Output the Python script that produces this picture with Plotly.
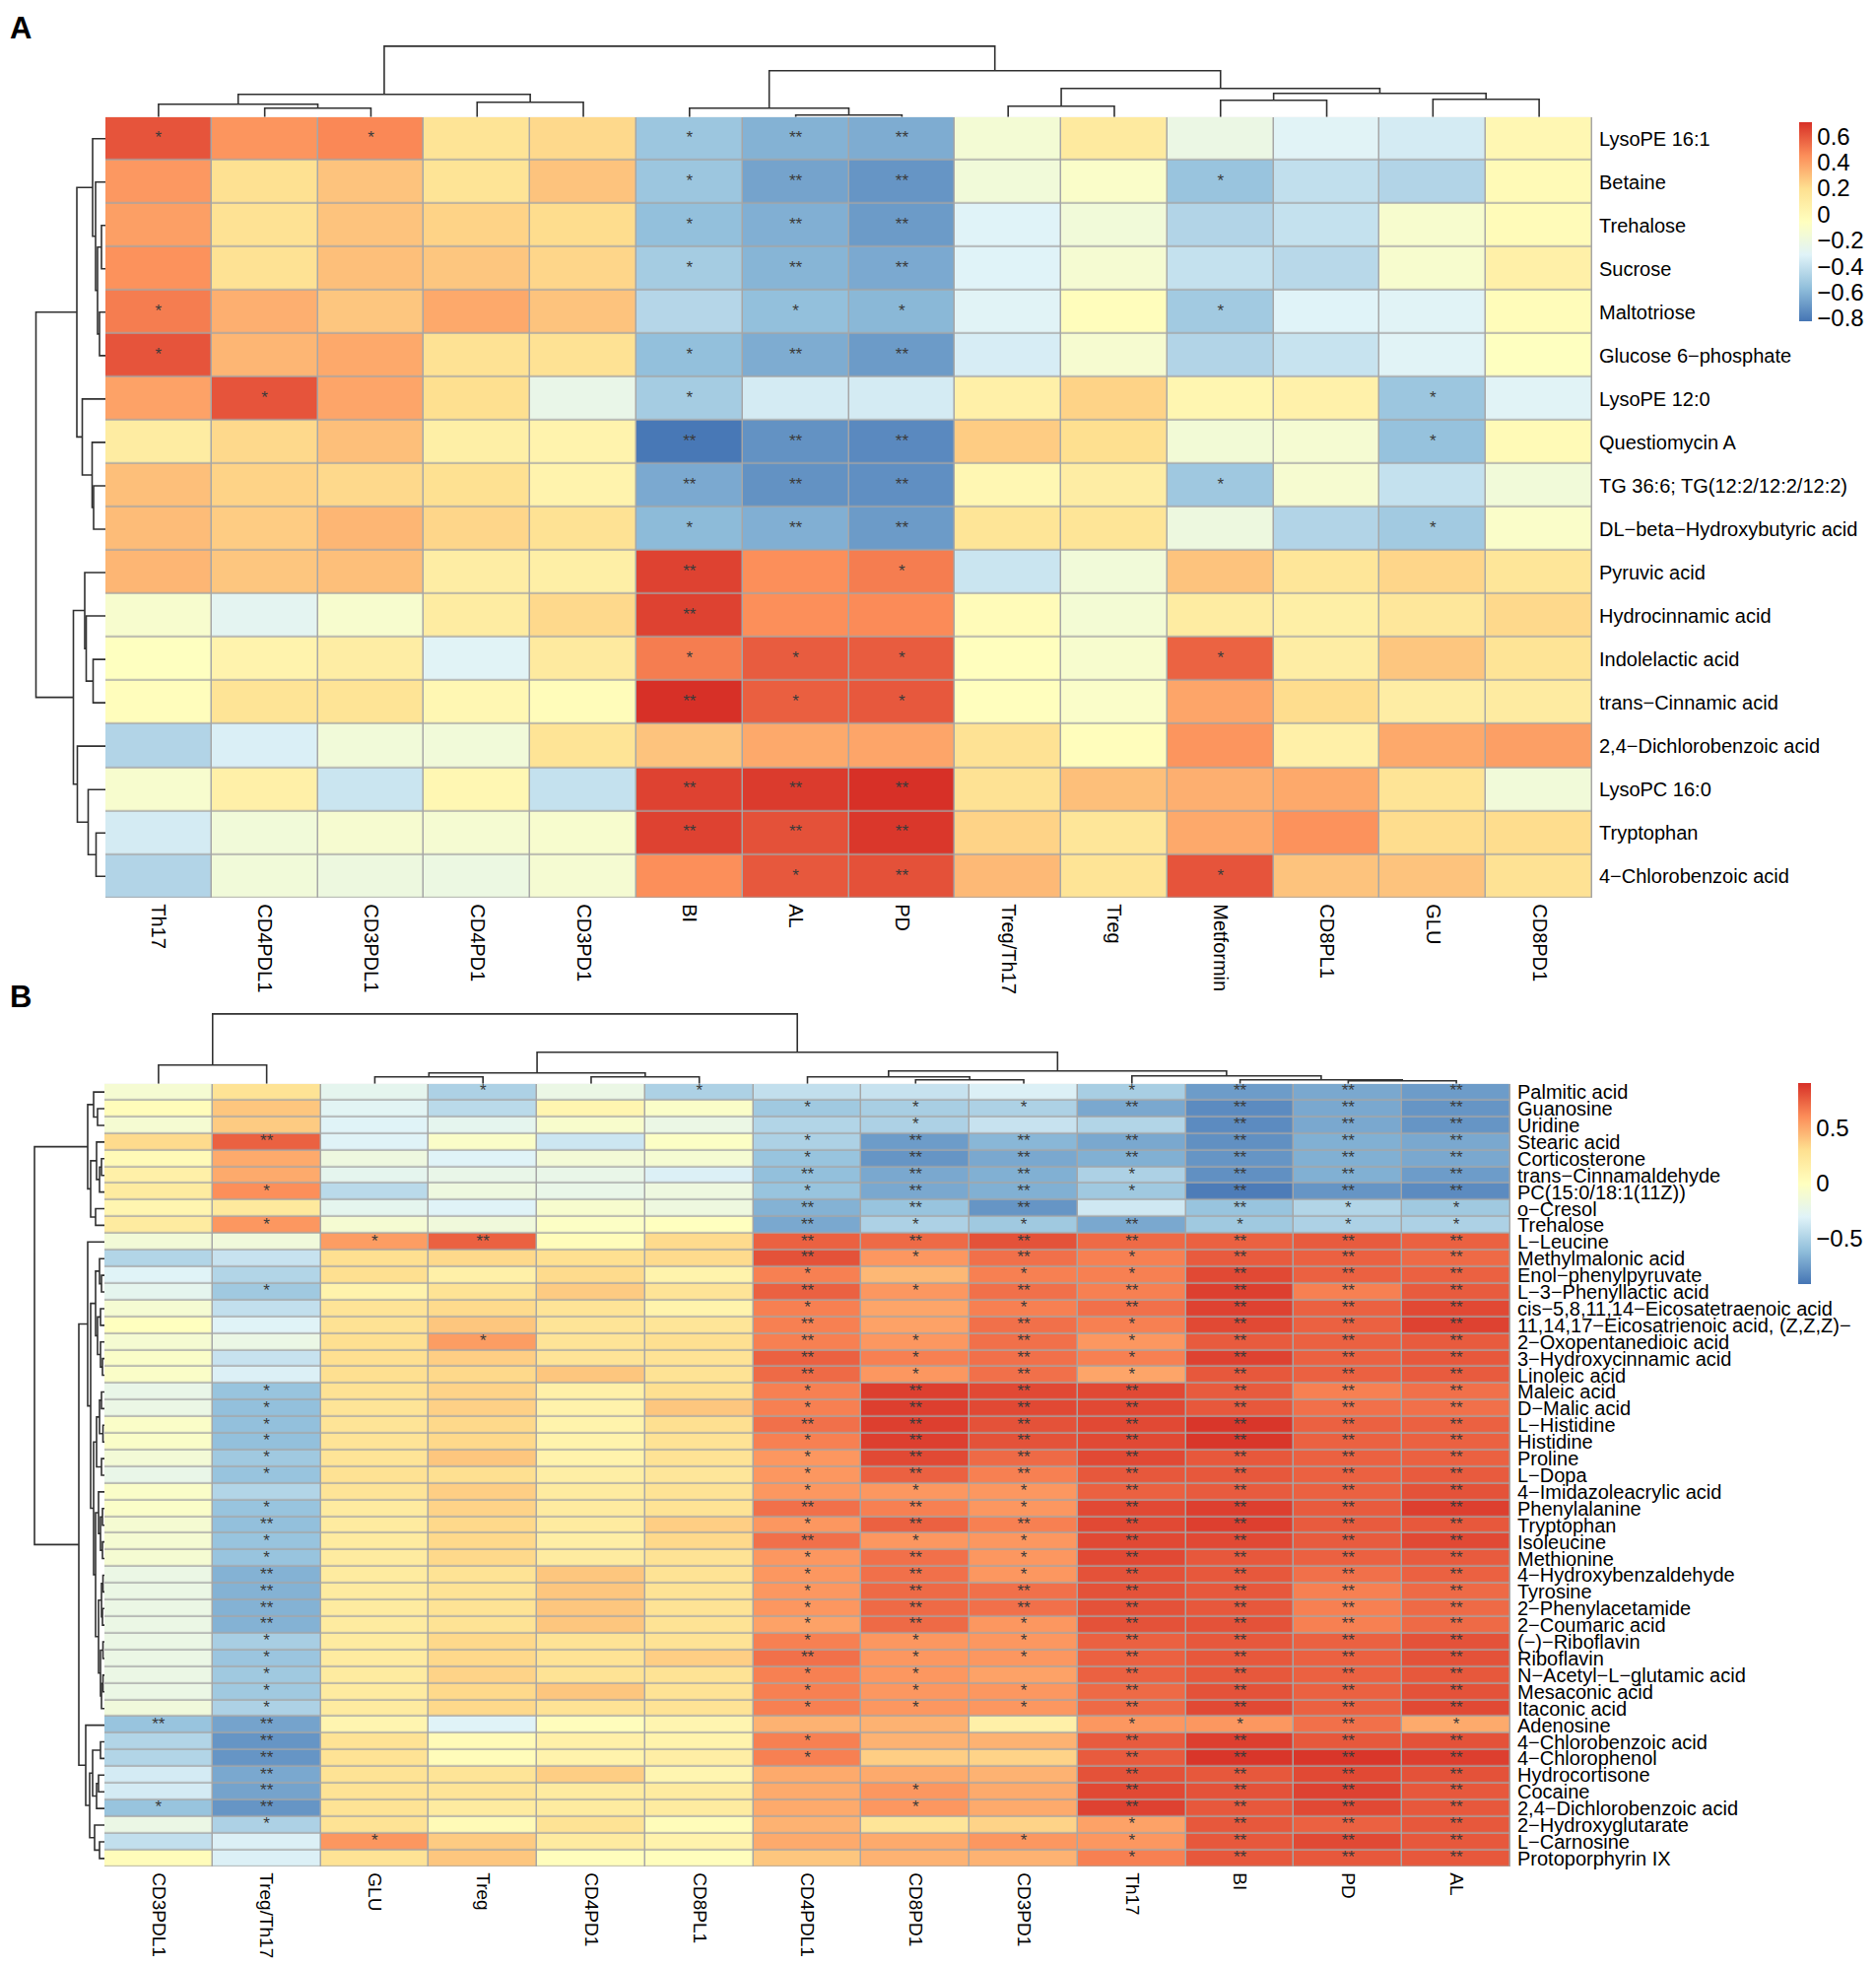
import plotly.graph_objects as go

# page is 1904 x 1996; the browser puts the figure 8 px in from the top-left
PAGE_W, PAGE_H, OFF = 1904, 1996, 8
W, H = PAGE_W - OFF, PAGE_H - OFF
FONT = "Liberation Sans, Arial, sans-serif"
RDYLBU = ["#4575B4", "#91BFDB", "#E0F3F8", "#FFFFBF", "#FEE090", "#FC8D59", "#D73027"]
SCALE = [[i / 6, c] for i, c in enumerate(RDYLBU)]

# ---------------- panel A ----------------
cols_a = ["Th17", "CD4PDL1", "CD3PDL1", "CD4PD1", "CD3PD1", "BI", "AL", "PD",
          "Treg/Th17", "Treg", "Metformin", "CD8PL1", "GLU", "CD8PD1"]
rows_a = ["LysoPE 16:1", "Betaine", "Trehalose", "Sucrose", "Maltotriose",
          "Glucose 6\u2212phosphate", "LysoPE 12:0", "Questiomycin A",
          "TG 36:6; TG(12:2/12:2/12:2)", "DL\u2212beta\u2212Hydroxybutyric acid",
          "Pyruvic acid", "Hydrocinnamic acid", "Indolelactic acid",
          "trans\u2212Cinnamic acid", "2,4\u2212Dichlorobenzoic acid", "LysoPC 16:0",
          "Tryptophan", "4\u2212Chlorobenzoic acid"]
corr_a = [
    [0.61, 0.43, 0.47, 0.17, 0.22, -0.53, -0.61, -0.63, -0.15, 0.12, -0.22, -0.30, -0.35, 0.01],
    [0.42, 0.19, 0.29, 0.17, 0.29, -0.53, -0.66, -0.71, -0.17, -0.10, -0.54, -0.41, -0.46, -0.01],
    [0.40, 0.18, 0.29, 0.24, 0.21, -0.56, -0.62, -0.69, -0.31, -0.17, -0.46, -0.40, -0.12, -0.02],
    [0.44, 0.18, 0.30, 0.28, 0.23, -0.50, -0.60, -0.64, -0.31, -0.14, -0.40, -0.44, -0.12, 0.07],
    [0.50, 0.35, 0.28, 0.37, 0.29, -0.45, -0.56, -0.59, -0.30, -0.04, -0.51, -0.31, -0.30, -0.03],
    [0.61, 0.33, 0.37, 0.18, 0.18, -0.56, -0.63, -0.69, -0.34, -0.13, -0.46, -0.39, -0.30, -0.06],
    [0.39, 0.61, 0.38, 0.20, -0.24, -0.50, -0.35, -0.35, 0.07, 0.24, 0.02, 0.06, -0.53, -0.30],
    [0.10, 0.22, 0.30, 0.08, 0.04, -0.81, -0.72, -0.75, 0.26, 0.20, -0.16, -0.14, -0.55, -0.01],
    [0.30, 0.24, 0.22, 0.19, 0.04, -0.64, -0.72, -0.73, 0.01, 0.09, -0.52, -0.13, -0.40, -0.17],
    [0.31, 0.26, 0.33, 0.23, 0.18, -0.58, -0.62, -0.69, 0.16, 0.16, -0.20, -0.46, -0.51, -0.10],
    [0.33, 0.28, 0.30, 0.09, 0.08, 0.66, 0.45, 0.50, -0.38, -0.17, 0.29, 0.15, 0.23, 0.15],
    [-0.12, -0.28, -0.12, 0.10, 0.22, 0.66, 0.45, 0.46, -0.02, -0.15, 0.10, 0.08, 0.14, 0.22],
    [-0.06, 0.04, 0.09, -0.30, 0.12, 0.50, 0.59, 0.59, -0.05, -0.12, 0.57, 0.09, 0.28, 0.17],
    [-0.04, 0.17, 0.17, 0.01, -0.03, 0.71, 0.58, 0.60, -0.05, -0.10, 0.38, 0.21, 0.09, 0.11],
    [-0.46, -0.33, -0.17, -0.17, 0.17, 0.29, 0.37, 0.38, 0.18, -0.04, 0.43, 0.07, 0.37, 0.40],
    [-0.12, 0.07, -0.38, 0.01, -0.40, 0.66, 0.68, 0.71, 0.18, 0.30, 0.35, 0.37, 0.17, -0.17],
    [-0.35, -0.17, -0.13, -0.14, -0.12, 0.66, 0.62, 0.69, 0.24, 0.15, 0.37, 0.44, 0.21, 0.21],
    [-0.46, -0.17, -0.20, -0.21, -0.14, 0.45, 0.60, 0.62, 0.32, 0.17, 0.61, 0.29, 0.29, 0.18],
]
# significance per cell: 0 none, 1 "*", 2 "**"
sig_a = ["10100122000000", "00000122001000", "00000122000000", "00000122000000",
         "10000011001000", "10000122000000", "01000100000010", "00000222000010",
         "00000222001000", "00000122000010", "00000201000000", "00000200000000",
         "00000111001000", "00000211000000", "00000000000000", "00000222000000",
         "00000222000000", "00000012001000"]
# dendrograms: (child, child, distance); ids >= n refer to earlier merges
tree_cols_a = [(1, 2, 9), (0, 14, 13), (3, 4, 15), (15, 16, 23), (6, 7, 2), (5, 18, 9),
               (8, 9, 11), (10, 11, 17), (12, 13, 18), (21, 22, 24), (20, 23, 29),
               (19, 24, 47), (17, 25, 72)]
tree_rows_a = [(2, 3, 4), (4, 5, 6), (18, 19, 8), (1, 20, 10), (0, 21, 13), (8, 9, 12),
               (7, 23, 13.5), (6, 24, 23.5), (22, 25, 29), (12, 13, 12.5), (11, 27, 19.5),
               (10, 28, 21), (16, 17, 9.5), (15, 30, 17.5), (14, 31, 28.5), (29, 32, 32.5),
               (26, 33, 70.5)]
ticks_a = [0.6, 0.4, 0.2, 0, -0.2, -0.4, -0.6, -0.8]
range_a = [-0.82, 0.71]

# ---------------- panel B ----------------
cols_b = ["CD3PDL1", "Treg/Th17", "GLU", "Treg", "CD4PD1", "CD8PL1", "CD4PDL1",
          "CD8PD1", "CD3PD1", "Th17", "BI", "PD", "AL"]
rows_b = ["Palmitic acid", "Guanosine", "Uridine", "Stearic acid", "Corticosterone",
          "trans\u2212Cinnamaldehyde", "PC(15:0/18:1(11Z))", "o\u2212Cresol", "Trehalose",
          "L\u2212Leucine", "Methylmalonic acid", "Enol\u2212phenylpyruvate",
          "L\u22123\u2212Phenyllactic acid", "cis\u22125,8,11,14\u2212Eicosatetraenoic acid",
          "11,14,17\u2212Eicosatrienoic acid, (Z,Z,Z)\u2212", "2\u2212Oxopentanedioic acid",
          "3\u2212Hydroxycinnamic acid", "Linoleic acid", "Maleic acid", "D\u2212Malic acid",
          "L\u2212Histidine", "Histidine", "Proline", "L\u2212Dopa",
          "4\u2212Imidazoleacrylic acid", "Phenylalanine", "Tryptophan", "Isoleucine",
          "Methionine", "4\u2212Hydroxybenzaldehyde", "Tyrosine", "2\u2212Phenylacetamide",
          "2\u2212Coumaric acid", "(\u2212)\u2212Riboflavin", "Riboflavin",
          "N\u2212Acetyl\u2212L\u2212glutamic acid", "Mesaconic acid", "Itaconic acid",
          "Adenosine", "4\u2212Chlorobenzoic acid", "4\u2212Chlorophenol", "Hydrocortisone",
          "Cocaine", "2,4\u2212Dichlorobenzoic acid", "2\u2212Hydroxyglutarate",
          "L\u2212Carnosine", "Protoporphyrin IX"]
corr_b = [
    [-0.10, 0.27, -0.25, -0.50, -0.20, -0.50, -0.42, -0.40, -0.32, -0.52, -0.75, -0.70, -0.75],
    [0.03, 0.40, -0.28, -0.45, 0.10, -0.05, -0.55, -0.52, -0.50, -0.70, -0.82, -0.70, -0.78],
    [-0.10, 0.38, -0.30, -0.25, -0.07, -0.20, -0.48, -0.50, -0.40, -0.48, -0.82, -0.70, -0.78],
    [0.32, 0.75, -0.30, -0.05, -0.38, -0.03, -0.50, -0.75, -0.64, -0.70, -0.80, -0.67, -0.70],
    [0.05, 0.50, -0.17, -0.30, -0.12, -0.10, -0.58, -0.78, -0.70, -0.67, -0.78, -0.67, -0.70],
    [0.15, 0.50, -0.25, -0.22, -0.22, -0.32, -0.60, -0.70, -0.67, -0.50, -0.80, -0.67, -0.75],
    [0.20, 0.60, -0.45, -0.17, -0.22, -0.17, -0.58, -0.70, -0.67, -0.55, -0.88, -0.78, -0.82],
    [0.10, 0.22, -0.25, -0.30, -0.08, -0.17, -0.66, -0.58, -0.78, -0.37, -0.58, -0.48, -0.55],
    [0.20, 0.57, -0.10, -0.15, -0.03, 0.00, -0.70, -0.50, -0.55, -0.70, -0.55, -0.50, -0.50],
    [-0.13, -0.15, 0.55, 0.75, 0.03, 0.32, 0.75, 0.72, 0.80, 0.72, 0.75, 0.77, 0.75],
    [-0.48, -0.40, 0.30, 0.33, 0.30, 0.32, 0.80, 0.57, 0.70, 0.65, 0.77, 0.75, 0.72],
    [-0.30, -0.48, 0.30, 0.15, 0.32, 0.12, 0.65, 0.45, 0.65, 0.65, 0.83, 0.75, 0.75],
    [-0.25, -0.55, 0.12, 0.27, 0.38, 0.26, 0.75, 0.57, 0.70, 0.65, 0.86, 0.65, 0.77],
    [-0.10, -0.42, 0.26, 0.32, 0.26, 0.12, 0.65, 0.52, 0.65, 0.70, 0.85, 0.75, 0.83],
    [0.00, -0.30, 0.28, 0.40, 0.26, 0.25, 0.65, 0.53, 0.70, 0.65, 0.83, 0.75, 0.85],
    [-0.10, -0.20, 0.30, 0.55, 0.26, 0.30, 0.65, 0.57, 0.70, 0.57, 0.77, 0.75, 0.77],
    [-0.05, -0.40, 0.30, 0.37, 0.26, 0.27, 0.75, 0.65, 0.70, 0.65, 0.85, 0.75, 0.78],
    [-0.05, -0.32, 0.30, 0.33, 0.40, 0.27, 0.72, 0.57, 0.70, 0.52, 0.78, 0.75, 0.77],
    [-0.22, -0.58, 0.28, 0.35, 0.15, 0.30, 0.65, 0.86, 0.83, 0.83, 0.77, 0.65, 0.70],
    [-0.20, -0.60, 0.26, 0.36, 0.13, 0.40, 0.65, 0.86, 0.83, 0.83, 0.78, 0.70, 0.70],
    [-0.05, -0.60, 0.26, 0.33, 0.12, 0.30, 0.70, 0.86, 0.80, 0.83, 0.89, 0.75, 0.75],
    [-0.05, -0.60, 0.26, 0.33, 0.12, 0.27, 0.65, 0.86, 0.80, 0.83, 0.89, 0.75, 0.75],
    [-0.12, -0.55, 0.26, 0.40, 0.12, 0.27, 0.57, 0.83, 0.72, 0.83, 0.78, 0.75, 0.75],
    [-0.22, -0.58, 0.28, 0.30, 0.17, 0.24, 0.57, 0.75, 0.65, 0.78, 0.78, 0.75, 0.77],
    [-0.05, -0.48, 0.26, 0.37, 0.20, 0.27, 0.57, 0.57, 0.57, 0.75, 0.77, 0.75, 0.80],
    [-0.05, -0.58, 0.20, 0.35, 0.20, 0.27, 0.70, 0.65, 0.57, 0.83, 0.86, 0.77, 0.86],
    [-0.10, -0.60, 0.20, 0.33, 0.20, 0.37, 0.57, 0.75, 0.65, 0.83, 0.86, 0.77, 0.78],
    [-0.10, -0.58, 0.20, 0.33, 0.17, 0.33, 0.70, 0.57, 0.57, 0.83, 0.83, 0.77, 0.83],
    [-0.10, -0.58, 0.20, 0.33, 0.20, 0.27, 0.57, 0.70, 0.57, 0.83, 0.78, 0.75, 0.77],
    [-0.20, -0.66, 0.20, 0.27, 0.40, 0.27, 0.57, 0.70, 0.57, 0.80, 0.78, 0.70, 0.75],
    [-0.20, -0.66, 0.20, 0.27, 0.40, 0.27, 0.57, 0.72, 0.70, 0.80, 0.78, 0.65, 0.72],
    [-0.20, -0.66, 0.20, 0.27, 0.40, 0.27, 0.57, 0.72, 0.70, 0.80, 0.78, 0.65, 0.72],
    [-0.20, -0.66, 0.20, 0.27, 0.40, 0.27, 0.53, 0.72, 0.57, 0.80, 0.80, 0.65, 0.72],
    [-0.20, -0.52, 0.20, 0.33, 0.27, 0.27, 0.65, 0.57, 0.57, 0.75, 0.78, 0.75, 0.80],
    [-0.20, -0.57, 0.20, 0.33, 0.27, 0.37, 0.70, 0.57, 0.57, 0.75, 0.78, 0.75, 0.80],
    [-0.20, -0.55, 0.20, 0.35, 0.27, 0.27, 0.65, 0.57, 0.53, 0.75, 0.78, 0.75, 0.78],
    [-0.20, -0.55, 0.20, 0.33, 0.40, 0.27, 0.65, 0.57, 0.57, 0.72, 0.80, 0.75, 0.80],
    [-0.15, -0.50, 0.20, 0.33, 0.27, 0.27, 0.65, 0.57, 0.57, 0.72, 0.83, 0.75, 0.83],
    [-0.58, -0.72, 0.10, -0.30, 0.02, 0.10, 0.47, 0.47, 0.15, 0.57, 0.57, 0.70, 0.50],
    [-0.48, -0.78, 0.27, 0.05, 0.15, 0.12, 0.65, 0.47, 0.47, 0.77, 0.86, 0.78, 0.80],
    [-0.48, -0.78, 0.27, 0.03, 0.12, 0.17, 0.65, 0.37, 0.35, 0.77, 0.89, 0.89, 0.86],
    [-0.35, -0.70, 0.27, 0.26, 0.37, 0.10, 0.50, 0.50, 0.47, 0.80, 0.78, 0.83, 0.80],
    [-0.35, -0.72, 0.27, 0.26, 0.20, 0.20, 0.50, 0.57, 0.50, 0.83, 0.80, 0.85, 0.78],
    [-0.58, -0.78, 0.27, 0.20, 0.20, 0.20, 0.50, 0.57, 0.50, 0.85, 0.78, 0.83, 0.78],
    [-0.20, -0.50, 0.27, 0.05, 0.27, 0.03, 0.47, 0.25, 0.35, 0.53, 0.78, 0.75, 0.78],
    [-0.42, -0.32, 0.57, 0.38, 0.20, 0.12, 0.50, 0.50, 0.57, 0.57, 0.78, 0.83, 0.78],
    [0.03, -0.32, 0.27, 0.40, 0.02, 0.02, 0.40, 0.47, 0.47, 0.65, 0.78, 0.78, 0.78],
]
sig_b = ["0001010001222", "0000001112222", "0000000100222", "0200001222222",
         "0000001222222", "0000002221222", "0100001221222", "0000002220211",
         "0100002112111", "0012002222222", "0000002121222", "0000001011222",
         "0100002122222", "0000001012222", "0000002021222", "0001002121222",
         "0000002121222", "0000002121222", "0100001222222", "0100001222222",
         "0100002222222", "0100001222222", "0100001222222", "0100001222222",
         "0000001112222", "0100002212222", "0200001222222", "0100002112222",
         "0100001212222", "0200001212222", "0200001222222", "0200001222222",
         "0200001212222", "0100001112222", "0100002112222", "0100001102222",
         "0100001112222", "0100001112222", "2200000001121", "0200001002222",
         "0200001002222", "0200000002222", "0200000102222", "1200000102222",
         "0100000001222", "0010000011222", "0000000001222"]
tree_cols_b = [(0, 1, 19), (2, 3, 7), (4, 5, 7), (14, 15, 11), (7, 8, 4), (6, 17, 7),
               (11, 12, 3), (10, 19, 4), (9, 20, 8), (18, 21, 13), (16, 22, 32),
               (13, 23, 71)]
tree_rows_b = [(1, 2, 7), (0, 47, 11), (4, 5, 3), (49, 6, 5), (3, 50, 8), (7, 8, 9),
               (51, 52, 14), (48, 53, 17),
               (39, 40, 4), (41, 42, 6), (56, 43, 8), (55, 57, 12), (45, 46, 5),
               (44, 59, 10), (58, 60, 15), (38, 61, 19),
               (11, 12, 3), (10, 63, 5), (13, 14, 4), (16, 17, 2), (15, 66, 4),
               (65, 67, 7), (64, 68, 9),
               (18, 19, 3), (20, 21, 1.5), (70, 71, 5), (22, 23, 3), (72, 73, 8),
               (25, 26, 2), (27, 28, 2), (75, 76, 4), (24, 77, 6), (29, 30, 1.5),
               (31, 32, 2), (79, 80, 3), (33, 34, 1.5), (35, 36, 1.5), (83, 37, 3),
               (82, 84, 4), (81, 85, 6), (78, 86, 9), (74, 87, 11),
               (69, 88, 14), (9, 89, 17), (90, 62, 26), (54, 91, 71)]
ticks_b = [0.5, 0, -0.5]
range_b = [-0.91, 0.91]


def xd(a, b):
    return [(a - OFF) / W, (b - OFF) / W]


def yd(a, b):
    return [1 - (b - OFF) / H, 1 - (a - OFF) / H]


def ref(i, axis):
    return axis if i == 1 else f"{axis}{i}"


def key(i, axis):
    return f"{axis}axis" if i == 1 else f"{axis}axis{i}"


def tree_lines(merges, n):
    pos = list(range(n))
    hgt = [0.0] * n
    p, h = [], []
    for a, b, d in merges:
        p += [pos[a], pos[a], pos[b], pos[b], None]
        h += [hgt[a], d, d, hgt[b], None]
        pos.append((pos[a] + pos[b]) / 2)
        hgt.append(d)
    return p, h


def star_points(sig):
    xs, ys, ts = [], [], []
    for r, s in enumerate(sig):
        for c, ch in enumerate(s):
            if ch != "0":
                xs.append(c)
                ys.append(r)
                ts.append("*" * int(ch))
    return xs, ys, ts


def panel(fig, k, cols, rows, z, sig, col_tree, row_tree, box, dh, dw,
          zr, cb, cb_ticks, row_size, col_size):
    x0, y0, x1, y1 = box
    nc, nr = len(cols), len(rows)
    hm, cd, rd = k, k + 1, k + 2
    fig.add_trace(go.Heatmap(
        z=z, x=list(range(nc)), y=list(range(nr)), colorscale=SCALE,
        zmin=zr[0], zmax=zr[1], xgap=1.5, ygap=1.5,
        colorbar=dict(x=(cb[0] - OFF) / W, xanchor="left", y=1 - (cb[1] - OFF) / H,
                      yanchor="top", len=cb[3] - cb[1], lenmode="pixels",
                      thickness=cb[2] - cb[0], thicknessmode="pixels",
                      xpad=0, ypad=0, outlinewidth=0, ticks="", tickvals=cb_ticks,
                      tickfont=dict(size=24, family=FONT, color="black")),
        xaxis=ref(hm, "x"), yaxis=ref(hm, "y")))
    sx, sy, st = star_points(sig)
    fig.add_trace(go.Scatter(
        x=sx, y=sy, text=st, mode="text", hoverinfo="skip", showlegend=False,
        textfont=dict(size=17, color="#3a3a3a", family=FONT),
        xaxis=ref(hm, "x"), yaxis=ref(hm, "y")))
    lp, lh = tree_lines(col_tree, nc)
    fig.add_trace(go.Scatter(
        x=lp, y=lh, mode="lines", line=dict(color="#303030", width=1.6),
        hoverinfo="skip", showlegend=False, xaxis=ref(cd, "x"), yaxis=ref(cd, "y")))
    lp, lh = tree_lines(row_tree, nr)
    fig.add_trace(go.Scatter(
        x=lh, y=lp, mode="lines", line=dict(color="#303030", width=1.6),
        hoverinfo="skip", showlegend=False, xaxis=ref(rd, "x"), yaxis=ref(rd, "y")))

    hide = dict(visible=False, fixedrange=True)
    fig.update_layout({
        key(hm, "x"): dict(domain=xd(x0, x1), range=[-0.5, nc - 0.5], anchor=ref(hm, "y"),
                           tickmode="array", tickvals=list(range(nc)), ticktext=cols,
                           tickangle=90, ticks="", showgrid=False, zeroline=False,
                           showline=False, ticklabelstandoff=5,
                           tickfont=dict(size=col_size, family=FONT, color="black")),
        key(hm, "y"): dict(domain=yd(y0, y1), range=[nr - 0.5, -0.5], anchor=ref(hm, "x"),
                           side="right", tickmode="array", tickvals=list(range(nr)),
                           ticktext=rows, ticks="", showgrid=False, zeroline=False,
                           showline=False, ticklabelstandoff=6,
                           tickfont=dict(size=row_size, family=FONT, color="black")),
        key(cd, "x"): dict(domain=xd(x0, x1), range=[-0.5, nc - 0.5], anchor=ref(cd, "y"), **hide),
        key(cd, "y"): dict(domain=yd(y0 - dh, y0), range=[0, dh], anchor=ref(cd, "x"), **hide),
        key(rd, "x"): dict(domain=xd(x0 - dw, x0), range=[dw, 0], anchor=ref(rd, "y"), **hide),
        key(rd, "y"): dict(domain=yd(y0, y1), range=[nr - 0.5, -0.5], anchor=ref(rd, "x"), **hide),
    })
    fig.add_shape(type="rect", xref=ref(hm, "x"), yref=ref(hm, "y"),
                  x0=-0.5, x1=nc - 0.5, y0=-0.5, y1=nr - 0.5,
                  fillcolor="#A6A6A6", line_width=0, layer="below")


fig = go.Figure()
panel(fig, 1, cols_a, rows_a, corr_a, sig_a, tree_cols_a, tree_rows_a,
      (107, 116, 1616, 911), 76, 77, range_a, (1826, 121, 1839, 323), ticks_a, 20, 20)
panel(fig, 4, cols_b, rows_b, corr_b, sig_b, tree_cols_b, tree_rows_b,
      (106, 1100, 1533, 1897), 75, 76, range_b, (1825, 1099, 1838, 1303), ticks_b, 20, 19)

for lab, ymid in (("A", 26), ("B", 1012)):
    fig.add_annotation(text=f"<b>{lab}</b>", x=(8 - OFF) / W, y=1 - (ymid - OFF) / H,
                       xref="paper", yref="paper", xanchor="left", yanchor="middle",
                       showarrow=False, font=dict(size=31, family=FONT, color="black"))

fig.update_layout(width=W, height=H, margin=dict(l=0, r=0, t=0, b=0),
                  paper_bgcolor="white", plot_bgcolor="white", showlegend=False,
                  font=dict(family=FONT, color="black"))

fig.write_html("out.html")
